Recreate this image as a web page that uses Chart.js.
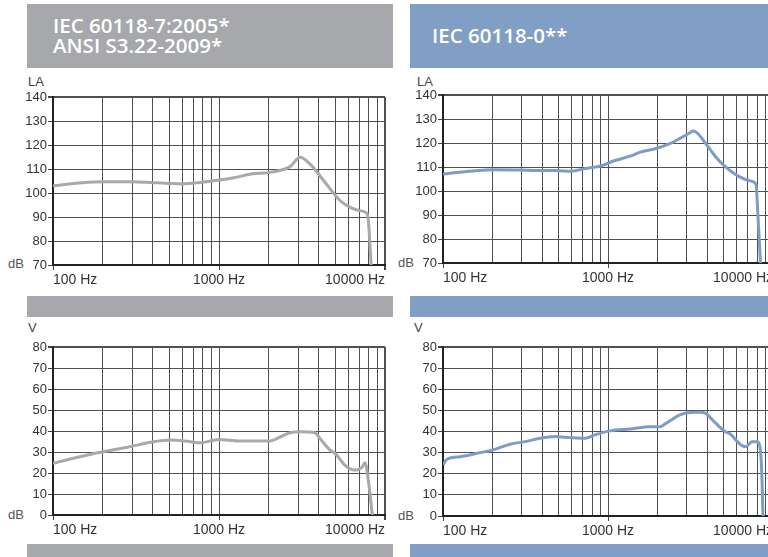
<!DOCTYPE html>
<html>
<head>
<meta charset="utf-8">
<script src="https://cdn.jsdelivr.net/npm/chart.js@4.4.1/dist/chart.umd.min.js"></script>
<style>
  html, body { margin: 0; padding: 0; background: #fff; }
  body { width: 768px; height: 557px; overflow: hidden; position: relative; font-family: "Liberation Sans", Arial, sans-serif; }
  .bar { position: absolute; }
  .gray { background: #a7a8ab; left: 27px; width: 366px; }
  .blue { background: #819fc5; left: 410px; width: 358px; }
  .head { top: 4px; height: 64px; }
  .mid { top: 296px; height: 21px; }
  .foot { top: 544px; height: 13px; }
  .title { position: absolute; color: #fff; font-family: "Open Sans", sans-serif; font-weight: 600; font-size: 20.5px; line-height: 20px; }
  .lbl { position: absolute; color: #444; font-size: 13px; line-height: 13px; }
  .db { position: absolute; color: #555; font-size: 13px; line-height: 13px; }
  canvas { position: absolute; }
</style>
</head>
<body>
<div class="bar gray head"></div>
<div class="bar blue head"></div>
<div class="bar gray mid"></div>
<div class="bar blue mid"></div>
<div class="bar gray foot"></div>
<div class="bar blue foot"></div>

<div class="title" style="left:53px; top:15px;">IEC 60118-7:2005*<br>ANSI S3.22-2009*</div>
<div class="title" style="left:432px; top:25px;">IEC 60118-0**</div>

<div class="lbl" style="left:28px; top:75px;">LA</div>
<div class="lbl" style="left:417px; top:75px;">LA</div>
<div class="lbl" style="left:28px; top:321px;">V</div>
<div class="lbl" style="left:414px; top:321px;">V</div>
<div class="db" style="left:8px; top:257px;">dB</div>
<div class="db" style="left:398px; top:256px;">dB</div>
<div class="db" style="left:8px; top:508px;">dB</div>
<div class="db" style="left:398px; top:509px;">dB</div>

<canvas id="laLeft" width="392" height="203" style="left:0; top:87px;"></canvas>
<canvas id="laRight" width="385" height="203" style="left:395px; top:85px;"></canvas>
<canvas id="vLeft" width="392" height="203" style="left:0; top:337px;"></canvas>
<canvas id="vRight" width="385" height="204" style="left:395px; top:337px;"></canvas>

<script>
// frequency axis (Hz)
const freqTicks = [100, 200, 300, 400, 500, 600, 700, 800, 900,
                   1000, 2000, 3000, 4000, 5000, 6000, 7000, 8000, 9000, 10000];
const freqLabels = { 100: '100 Hz', 1000: '1000 Hz', 10000: '10000 Hz' };

// level axes (dB)
const laRange = [70, 140];
const vRange = [0, 80];

// IEC 60118-7 / ANSI S3.22, LA curve
const iec7LaFreq  = [100, 150, 200, 300, 400, 500, 600, 770, 1000, 1250, 1600, 2030, 2680, 3080, 3530, 4360, 5370, 6170, 7090, 7800, 7950, 8250];
const iec7LaLevel = [103, 104.3, 104.7, 104.7, 104.3, 104, 103.8, 104.4, 105.4, 106.5, 108, 108.6, 111, 114.9, 112.1, 104.4, 96.8, 94, 92.6, 91.5, 88, 70];

// IEC 60118-0, LA curve
const iec0LaFreq  = [100, 200, 290, 390, 480, 600, 680, 780, 890, 1100, 1360, 1570, 1930, 2370, 2730, 3140, 3270, 3450, 3880, 4460, 5120, 6280, 7460, 7900, 8100, 8400];
const iec0LaLevel = [107.1, 108.9, 108.8, 108.5, 108.5, 108.2, 108.9, 109.7, 110.3, 112.7, 114.5, 116.2, 117.6, 119.7, 121.9, 124.3, 125, 124.3, 120.1, 114.5, 110.3, 105.9, 104, 102.5, 90, 70];

// IEC 60118-7 / ANSI S3.22, V curve
const iec7VFreq  = [100, 127, 200, 290, 385, 505, 670, 770, 1000, 1340, 2030, 2180, 2680, 3080, 3780, 4050, 4650, 5060, 5720, 6580, 7260, 7580, 7930, 8390];
const iec7VLevel = [24.6, 26.7, 30.1, 32.5, 34.6, 35.7, 34.9, 34.4, 36, 35.2, 35.2, 36, 39.2, 39.7, 39.2, 36.5, 31, 29, 23.8, 21.4, 22.7, 24.9, 16.7, 0];

// IEC 60118-0, V curve
const iec0VFreq  = [100, 106, 127, 168, 201, 255, 314, 387, 477, 589, 726, 834, 1030, 1360, 1800, 2070, 2220, 2730, 3140, 3610, 3880, 4460, 5120, 5490, 6310, 6860, 7460, 8000, 8340, 8580, 8690];
const iec0VLevel = [24.2, 27, 28.1, 30, 31.3, 34, 35.2, 36.8, 37.6, 37.1, 36.8, 38.4, 40.3, 41.2, 42.3, 42.3, 43.6, 47.9, 49, 49.1, 48.7, 44.2, 40, 38.9, 34, 32.8, 35.2, 35.2, 32.8, 17, 0];

const GRAY_LINE = '#a9a9a9';
const BLUE_LINE = '#7e9dc6';
const GRID = '#505050';
const AXIS = '#222';

function points(xs, ys) {
  return xs.map((x, i) => ({ x, y: ys[i] }));
}

function makeChart(id, xs, ys, color, range, yWidth) {
  const xMax = freqTicks[freqTicks.length - 1];
  return new Chart(document.getElementById(id), {
    type: 'line',
    data: {
      datasets: [{
        data: points(xs, ys),
        borderColor: color,
        borderWidth: 3,
        pointRadius: 0,
        cubicInterpolationMode: 'monotone',
        fill: false,
      }],
    },
    options: {
      responsive: false,
      animation: false,
      events: [],
      layout: { padding: { top: 10, right: 7, left: 0, bottom: 0 } },
      plugins: { legend: { display: false }, tooltip: { enabled: false } },
      scales: {
        x: {
          type: 'logarithmic',
          min: freqTicks[0],
          max: xMax,
          afterBuildTicks: s => { s.ticks = freqTicks.map(v => ({ value: v, major: !!freqLabels[v] })); },
          afterFit: s => { s.height = 25; },
          border: { display: true, color: AXIS, width: 2 },
          grid: {
            color: GRID,
            lineWidth: c => (c.tick && c.tick.value === xMax ? 2 : 1),
            tickLength: 5,
            tickColor: c => (c.tick && freqLabels[c.tick.value] ? '#444' : 'rgba(0,0,0,0)'),
          },
          ticks: {
            autoSkip: false,
            maxRotation: 0,
            align: 'inner',
            padding: 2,
            color: '#333',
            font: { family: '"Liberation Sans", Arial, sans-serif', size: 14 },
            callback: v => freqLabels[v] || '',
          },
        },
        y: {
          min: range[0],
          max: range[1],
          afterFit: s => { s.width = yWidth; },
          border: { display: true, color: AXIS, width: 2 },
          grid: {
            color: GRID,
            lineWidth: c => (c.tick && c.tick.value === range[1] ? 2 : 1),
            tickLength: 5,
            tickColor: '#444',
          },
          ticks: {
            stepSize: 10,
            padding: 1,
            color: '#333',
            font: { family: '"Liberation Sans", Arial, sans-serif', size: 13 },
          },
        },
      },
    },
  });
}

makeChart('laLeft', iec7LaFreq, iec7LaLevel, GRAY_LINE, laRange, 53);
makeChart('laRight', iec0LaFreq, iec0LaLevel, BLUE_LINE, laRange, 48);
makeChart('vLeft', iec7VFreq, iec7VLevel, GRAY_LINE, vRange, 53);
makeChart('vRight', iec0VFreq, iec0VLevel, BLUE_LINE, vRange, 48);
</script>
</body>
</html>
